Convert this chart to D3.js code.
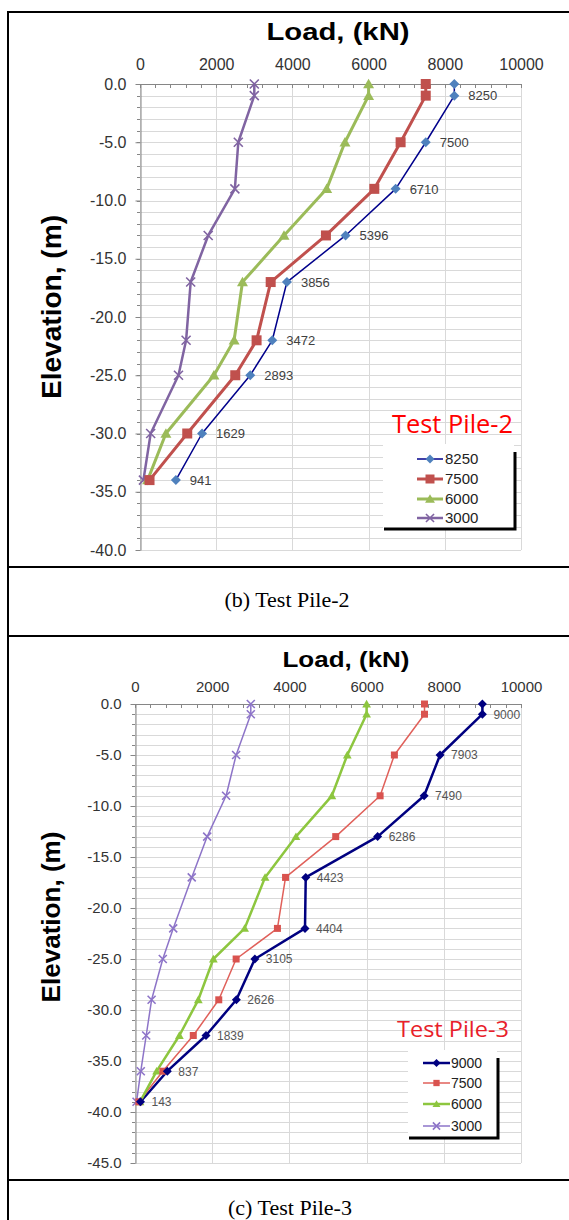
<!DOCTYPE html>
<html><head><meta charset="utf-8">
<script src="https://cdn.jsdelivr.net/npm/d3@7/dist/d3.min.js"></script>
<style>html,body{margin:0;padding:0;background:#fff;} svg{display:block;}</style>
</head><body>
<svg id="c" width="569" height="1220"></svg>
<script>
// ---------------- data ----------------
const xTickValues = [0, 2000, 4000, 6000, 8000, 10000];
const yTicksTP2 = [0, -5, -10, -15, -20, -25, -30, -35, -40];
const yTicksTP3 = [0, -5, -10, -15, -20, -25, -30, -35, -40, -45];

// Test Pile-2
const elevTP2 = [0, -1, -5, -9, -13, -17, -22, -25, -30, -34];
const tp2_8250 = [8250, 8250, 7500, 6710, 5396, 3856, 3472, 2893, 1629, 941];
const tp2_7500 = [7500, 7500, 6840, 6150, 4880, 3430, 3060, 2500, 1240, 250];
const tp2_6000 = [6000, 6000, 5380, 4900, 3780, 2690, 2470, 1940, 680, 200];
const tp2_3000 = [3000, 3000, 2580, 2490, 1790, 1330, 1210, 1010, 280, 90];
const tp2Names = ["8250", "7500", "6000", "3000"];

// Test Pile-3
const elevTP3 = [0, -1, -5, -9, -13, -17, -22, -25, -29, -32.5, -36, -39];
const tp3_9000 = [9000, 9000, 7903, 7490, 6286, 4423, 4404, 3105, 2626, 1839, 837, 143];
const tp3_7500 = [7500, 7500, 6720, 6350, 5200, 3900, 3690, 2620, 2170, 1510, 720, 100];
const tp3_6000 = [6000, 6000, 5500, 5100, 4170, 3370, 2840, 2030, 1640, 1150, 560, 130];
const tp3_3000 = [3000, 3000, 2620, 2360, 1870, 1470, 990, 720, 430, 290, 150, 40];
const tp3Names = ["9000", "7500", "6000", "3000"];

const xTitle = "Load, (kN)";
const yTitle = "Elevation, (m)";
const captions = ["(b) Test Pile-2", "(c) Test Pile-3"];
const pileTitles = ["Test Pile-2", "Test Pile-3"];

// ---------------- drawing ----------------
const svg = d3.select("#c");
const FONT = "Liberation Sans, Arial, sans-serif";

// table frame
const frame = svg.append("g").attr("stroke", "#000").attr("stroke-width", 2);
frame.append("line").attr("x1", 8).attr("x2", 569).attr("y1", 12).attr("y2", 12);
frame.append("line").attr("x1", 8).attr("x2", 8).attr("y1", 11).attr("y2", 1220);
[567, 636, 1180].forEach(y => frame.append("line").attr("x1", 8).attr("x2", 569).attr("y1", y).attr("y2", y));

svg.append("text").attr("x", 287).attr("y", 607).attr("text-anchor", "middle")
  .attr("font-family", "Liberation Serif, Times New Roman, serif").attr("font-size", 22).text(captions[0]);
svg.append("text").attr("x", 290).attr("y", 1215).attr("text-anchor", "middle")
  .attr("font-family", "Liberation Serif, Times New Roman, serif").attr("font-size", 22).text(captions[1]);

function markerPath(type, s) {
  const h = s / 2;
  if (type === "diamond") return `M0,${-h}L${h},0L0,${h}L${-h},0Z`;
  if (type === "square") return `M${-h},${-h}H${h}V${h}H${-h}Z`;
  if (type === "triangle") return `M0,${-h * 1.05}L${h * 1.1},${h * 0.85}L${-h * 1.1},${h * 0.85}Z`;
  if (type === "x") return `M${-h},${-h}L${h},${h}M${-h},${h}L${h},${-h}`;
  return "";
}

function drawMarker(g, type, size, color, x, y) {
  const p = g.append("path").attr("d", markerPath(type, size)).attr("transform", `translate(${x},${y})`);
  if (type === "x") p.attr("fill", "none").attr("stroke", color).attr("stroke-width", 1.6);
  else p.attr("fill", color).attr("stroke", "none");
}

function drawChart(o) {
  const g = svg.append("g");
  const x = d3.scaleLinear().domain([0, 10000]).range([o.x0, o.x1]);
  const y = d3.scaleLinear().domain([0, o.yMin]).range([o.y0, o.y1]);

  // gridlines
  const grid = g.append("g").attr("stroke", "#d9d9d9").attr("stroke-width", 1);
  d3.range(0, o.yMin - 1, -1).forEach(v => {
    grid.append("line").attr("x1", o.x0).attr("x2", o.x1).attr("y1", Math.round(y(v)) + 0.5).attr("y2", Math.round(y(v)) + 0.5);
  });
  xTickValues.forEach(v => {
    grid.append("line").attr("x1", Math.round(x(v)) + 0.5).attr("x2", Math.round(x(v)) + 0.5).attr("y1", o.y0).attr("y2", o.y1);
  });

  // top axis
  const top = g.append("g").attr("transform", `translate(0,${o.y0})`)
    .call(d3.axisTop(x).tickValues(xTickValues).tickSize(0).tickPadding(o.xPad).tickFormat(d => String(d)));
  top.select(".domain").attr("stroke", "#868686");
  top.selectAll("text").attr("font-family", FONT).attr("font-size", o.tickFont).attr("fill", "#333");
  d3.range(0, 10001, 400).forEach(v => {
    g.append("line").attr("x1", Math.round(x(v)) + 0.5).attr("x2", Math.round(x(v)) + 0.5)
      .attr("y1", o.y0).attr("y2", o.y0 + 4).attr("stroke", "#868686");
  });

  // left axis
  const left = g.append("g").attr("transform", `translate(${o.x0 + 0.5},0)`)
    .call(d3.axisLeft(y).tickValues(o.yTicks).tickSizeInner(5).tickSizeOuter(0).tickPadding(o.yPad).tickFormat(d => d.toFixed(1)));
  left.select(".domain").attr("stroke", "#868686");
  left.selectAll("line").attr("stroke", "#868686");
  left.selectAll("text").attr("font-family", FONT).attr("font-size", o.tickFont).attr("fill", "#333");
  d3.range(0, o.yMin - 1, -1).forEach(v => {
    g.append("line").attr("x1", o.x0 - 3).attr("x2", o.x0).attr("y1", Math.round(y(v)) + 0.5).attr("y2", Math.round(y(v)) + 0.5)
      .attr("stroke", "#868686");
  });

  // titles
  g.append("text").attr("x", o.titleX).attr("y", o.titleY).attr("text-anchor", "middle")
    .attr("font-family", FONT).attr("font-weight", "bold").attr("font-size", o.titleFont)
    .attr("textLength", o.titleLen).attr("lengthAdjust", "spacingAndGlyphs").attr("fill", "#000").text(xTitle);
  g.append("text").attr("transform", `translate(${o.ytX},${o.ytY}) rotate(-90)`).attr("text-anchor", "middle")
    .attr("font-family", FONT).attr("font-weight", "bold").attr("font-size", o.ytFont)
    .attr("textLength", o.ytLen).attr("lengthAdjust", "spacingAndGlyphs").attr("fill", "#000").text(yTitle);

  // series
  const line = d3.line().x(d => x(d[0])).y(d => y(d[1]));
  o.series.forEach(s => {
    const pts = s.values.map((v, i) => [v, o.elev[i]]);
    g.append("path").datum(pts).attr("d", line).attr("fill", "none")
      .attr("stroke", s.lineColor).attr("stroke-width", s.lw).attr("stroke-linejoin", "round");
  });
  o.series.slice().reverse().forEach(s => {
    s.values.forEach((v, i) => drawMarker(g, s.marker, s.ms, s.markerColor, x(v), y(o.elev[i])));
  });

  // data labels on the top-load series
  const ls = o.series[0];
  ls.values.forEach((v, i) => {
    if (i === 0) return;
    g.append("text").attr("x", x(v) + o.lblDx).attr("y", y(o.elev[i])).attr("dy", "0.36em")
      .attr("font-family", FONT).attr("font-size", o.lblFont).attr("fill", o.lblColor).text(String(v));
  });

  // pile title
  g.append("text").attr("x", o.ptX).attr("y", o.ptY).attr("font-family", "Open Sans, Noto Sans, sans-serif")
    .attr("font-size", o.ptFont).attr("textLength", o.ptLen).attr("lengthAdjust", "spacingAndGlyphs")
    .attr("fill", o.ptColor).text(o.pileTitle);

  // legend
  const L = o.legend;
  g.append("rect").attr("x", L.x0).attr("y", L.y0).attr("width", L.x1 - L.x0).attr("height", L.y1 - L.y0).attr("fill", "#fff");
  g.append("path").attr("d", `M${L.x0 + 1},${L.y1 + 1}H${L.x1 + 1}V${L.y0 + 8}`).attr("fill", "none")
    .attr("stroke", "#000").attr("stroke-width", L.sw);
  o.series.forEach((s, i) => {
    const ry = L.rows[i];
    g.append("line").attr("x1", L.lx0).attr("x2", L.lx1).attr("y1", ry).attr("y2", ry)
      .attr("stroke", s.lineColor).attr("stroke-width", s.lw);
    drawMarker(g, s.marker, s.ms * 0.9, s.markerColor, (L.lx0 + L.lx1) / 2, ry);
    g.append("text").attr("x", L.tx).attr("y", ry).attr("dy", "0.36em").attr("font-family", FONT)
      .attr("font-size", L.font).attr("fill", "#222").text(o.names[i]);
  });
}

drawChart({
  x0: 140, x1: 521, y0: 84, y1: 550, yMin: -40, yTicks: yTicksTP2, elev: elevTP2,
  xPad: 14, yPad: 9, tickFont: 16,
  titleX: 338, titleY: 40, titleFont: 24, titleLen: 143,
  ytX: 61, ytY: 307, ytFont: 27, ytLen: 184,
  lblDx: 14, lblFont: 13, lblColor: "#404040",
  ptX: 392, ptY: 433, ptFont: 25, ptLen: 121, ptColor: "#ff0000", pileTitle: pileTitles[0],
  names: tp2Names,
  series: [
    { values: tp2_8250, lineColor: "#00008b", lw: 1.5, marker: "diamond", ms: 10, markerColor: "#4f81bd" },
    { values: tp2_7500, lineColor: "#c0504d", lw: 3, marker: "square", ms: 10, markerColor: "#c0504d" },
    { values: tp2_6000, lineColor: "#9bbb59", lw: 3, marker: "triangle", ms: 10, markerColor: "#9bbb59" },
    { values: tp2_3000, lineColor: "#8064a2", lw: 2.5, marker: "x", ms: 9, markerColor: "#8064a2" }
  ],
  legend: { x0: 383, y0: 444, x1: 514, y1: 528, sw: 3, rows: [459, 479, 499, 518], lx0: 417, lx1: 443, tx: 445, font: 15 }
});

drawChart({
  x0: 135, x1: 521, y0: 704, y1: 1163, yMin: -45, yTicks: yTicksTP3, elev: elevTP3,
  xPad: 12, yPad: 9, tickFont: 15,
  titleX: 346, titleY: 667, titleFont: 22, titleLen: 127,
  ytX: 60, ytY: 917, ytFont: 25, ytLen: 171,
  lblDx: 11, lblFont: 12, lblColor: "#555",
  ptX: 397, ptY: 1037, ptFont: 22, ptLen: 112, ptColor: "#e8202a", pileTitle: pileTitles[1],
  names: tp3Names,
  series: [
    { values: tp3_9000, lineColor: "#000080", lw: 2.5, marker: "diamond", ms: 9, markerColor: "#000080" },
    { values: tp3_7500, lineColor: "#e0605a", lw: 1.5, marker: "square", ms: 7, markerColor: "#d9534f" },
    { values: tp3_6000, lineColor: "#8dc63f", lw: 2.5, marker: "triangle", ms: 8, markerColor: "#8dc63f" },
    { values: tp3_3000, lineColor: "#8d74c8", lw: 1.5, marker: "x", ms: 8, markerColor: "#8d74c8" }
  ],
  legend: { x0: 408, y0: 1050, x1: 497, y1: 1137, sw: 3, rows: [1063, 1083, 1104, 1126], lx0: 423, lx1: 450, tx: 451, font: 14 }
});
</script>
</body></html>
